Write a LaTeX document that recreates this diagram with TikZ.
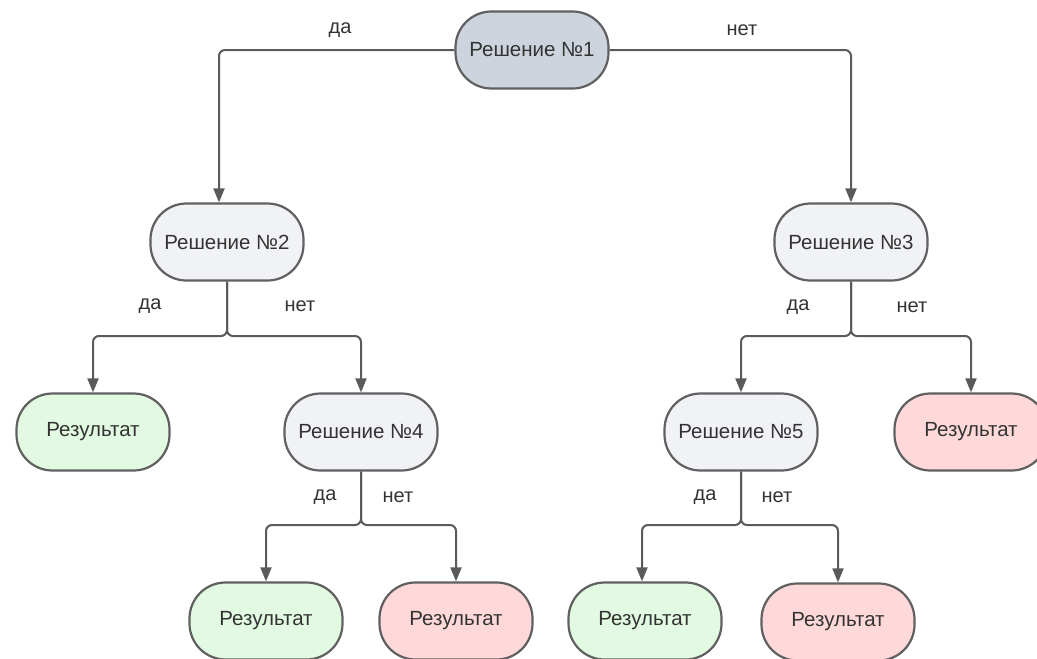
\documentclass[tikz,border=0pt]{standalone}
\usepackage{fontspec}
\setmainfont{Liberation Sans}
\usetikzlibrary{arrows.meta}
\definecolor{borderc}{HTML}{606060}
\definecolor{linec}{HTML}{5A5A5A}
\definecolor{textc}{HTML}{333333}
\definecolor{topfill}{HTML}{CED4DD}
\definecolor{grayfill}{HTML}{F1F2F5}
\definecolor{greenfill}{HTML}{E2F9E2}
\definecolor{redfill}{HTML}{FFD9D9}
\tikzset{
  box/.style={draw=borderc, line width=2.2pt, rounded corners=36pt,
    minimum width=153pt, minimum height=77pt, inner sep=0pt,
    font=\fontsize{20.5}{24}\selectfont, text=textc},
  topbox/.style={box, fill=topfill},
  decbox/.style={box, fill=grayfill},
  yesbox/.style={box, fill=greenfill},
  nobox/.style={box, fill=redfill},
  conn/.style={draw=linec, line width=2pt, rounded corners=6pt,
    -{Triangle[length=14pt,width=11pt]}},
  lbl/.style={font=\fontsize{20}{24}\selectfont, text=textc, inner sep=0pt}
}
\begin{document}
\begin{tikzpicture}[x=1pt,y=-1pt]
\useasboundingbox (0,0) rectangle (1037,659);
\clip (0,0) rectangle (1037,659);

\node[topbox] (n1) at (532,50) {Решение №1};
\node[decbox] (n2) at (227,242) {Решение №2};
\node[decbox] (n3) at (851,242) {Решение №3};
\node[yesbox] (r1) at (93,432) {Результат};
\node[decbox] (n4) at (361,432) {Решение №4};
\node[decbox] (n5) at (741,432) {Решение №5};
\node[nobox] (r2) at (971,432) {Результат};
\node[yesbox] (r3) at (266,621) {Результат};
\node[nobox] (r4) at (456,621) {Результат};
\node[yesbox] (r5) at (645,621) {Результат};
\node[nobox] (r6) at (838,622) {Результат};

\coordinate (j2) at (227,336);
\coordinate (j3) at (851,336);
\coordinate (j4) at (361,525);
\coordinate (j5) at (741,525);

\draw[conn] (n1.west) -| ([xshift=-8pt]n2.north);
\draw[conn] (n1.east) -| (n3.north);
\draw[conn] (n2.south) -- (j2) -| (r1.north);
\draw[conn] (n2.south) -- (j2) -| (n4.north);
\draw[conn] (n3.south) -- (j3) -| (n5.north);
\draw[conn] (n3.south) -- (j3) -| (r2.north);
\draw[conn] (n4.south) -- (j4) -| (r3.north);
\draw[conn] (n4.south) -- (j4) -| (r4.north);
\draw[conn] (n5.south) -- (j5) -| ([xshift=-3pt]r5.north);
\draw[conn] (n5.south) -- (j5) -| (r6.north);

\node[lbl] (l1) at (340,30) {да};
\node[lbl] (l2) at (742,30) {нет};
\node[lbl] (l3) at (150,306) {да};
\node[lbl] (l4) at (300,306) {нет};
\node[lbl] (l5) at (798,307) {да};
\node[lbl] (l6) at (912,307) {нет};
\node[lbl] (l7) at (325,497) {да};
\node[lbl] (l8) at (398,497) {нет};
\node[lbl] (l9) at (705,497) {да};
\node[lbl] (l10) at (777,497) {нет};
\end{tikzpicture}
\end{document}
